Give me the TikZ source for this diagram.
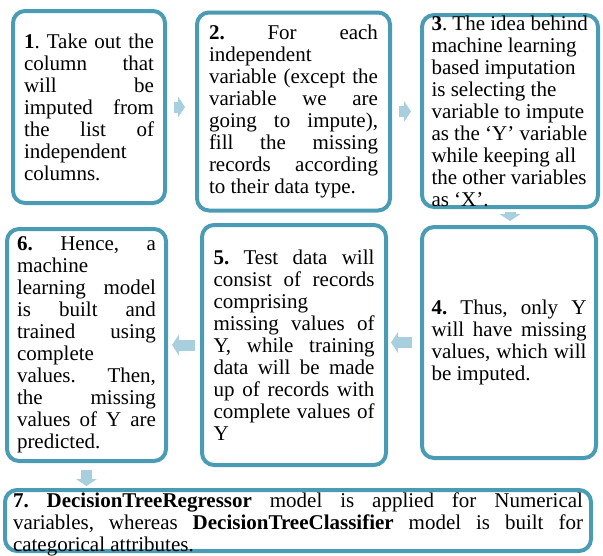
\documentclass[tikz,border=0pt]{standalone}
\usepackage{fontspec}
\setmainfont{Liberation Serif}
\usetikzlibrary{arrows.meta}
\setlength{\parindent}{0pt}
\frenchspacing

\definecolor{boxteal}{RGB}{74,156,181}
\definecolor{arrowblue}{RGB}{168,207,221}

% one line stretched to the full text width, or set flush left
\newlength{\jw}
\newcommand{\jline}[1]{\leavevmode\hbox to \jw{#1}}
\newcommand{\rline}[1]{\leavevmode\hbox to \jw{#1\hss}}

\tikzset{
  stepbox/.style={draw=boxteal, line width=4pt, rounded corners=12pt,
    inner sep=0pt, text width=#1, font=\fontsize{21}{22}\selectfont,
    execute at begin node={\setlength{\jw}{#1}\spaceskip=5.25pt plus 20pt minus 1pt}},
  flow/.style={draw=arrowblue, line width=11pt,
    -{Triangle[length=7pt,width=21pt,line width=0pt]}}
}

\begin{document}
\begin{tikzpicture}[x=1pt,y=-1pt]
  \useasboundingbox (0,0) rectangle (603,555);

  % top row
  \node[stepbox=130pt, minimum width=152pt, minimum height=192pt] (b1) at (89,107)
    {\jline{\textbf{1}. Take out the}\\ \jline{column that}\\ \jline{will be}\\
     \jline{imputed from}\\ \jline{the list of}\\ independent\\ columns.};
  \node[stepbox=169pt, minimum width=193pt, minimum height=198pt] (b2) at (293.5,111.5)
    {\jline{\textbf{2.} For each}\\ independent\\ \jline{variable (except the}\\
     \jline{variable we are}\\ \jline{going to impute),}\\ \jline{fill the missing}\\
     \jline{records according}\\ to their data type.};
  \node[stepbox=157pt, minimum width=176pt, minimum height=192pt, inner ysep=-4pt] (b3) at (510,111)
    {\rline{\textbf{3}. The idea behind}\\ \rline{machine learning}\\ \rline{based imputation}\\
     \rline{is selecting the}\\ \rline{variable to impute}\\ \rline{as the `Y' variable}\\
     \rline{while keeping all}\\ \rline{the other variables}\\ \rline{as `X'.}};

  % middle row
  \node[stepbox=155pt, minimum width=174pt, minimum height=231pt] (b4) at (509,342.5)
    {\jline{\textbf{4.} Thus, only Y}\\ \jline{will have missing}\\ \jline{values, which will}\\ be imputed.};
  \node[stepbox=161pt, minimum width=184pt, minimum height=240pt] (b5) at (294,345)
    {\jline{\textbf{5.} Test data will}\\ \jline{consist of records}\\ comprising\\
     \jline{missing values of}\\ \jline{Y, while training}\\ \jline{data will be made}\\
     \jline{up of records with}\\ \jline{complete values of}\\ Y};
  \node[stepbox=139pt, minimum width=159pt, minimum height=232pt] (b6) at (86.5,345)
    {\jline{\textbf{6.} Hence, a}\\ machine\\ \jline{learning model}\\ \jline{is built and}\\
     \jline{trained using}\\ complete\\ \jline{values. Then,}\\ \jline{the missing}\\
     \jline{values of Y are}\\ predicted.};

  % bottom
  \node[stepbox=570pt, minimum width=586pt, minimum height=61pt, inner ysep=-6pt] (b7) at (298,520.5)
    {\jline{\rule{0pt}{22pt}\textbf{7. DecisionTreeRegressor} model is applied for Numerical}\\
     \jline{variables, whereas \textbf{DecisionTreeClassifier} model is built for}\\
     categorical attributes.};

  % arrows
  \draw[flow, shorten <=7pt, shorten >=10pt] (b1.east) -- (b1.east -| b2.west);
  \draw[flow, shorten <=7pt, shorten >=9pt] (b2.east) -- (b2.east -| b3.west);
  \draw[flow, shorten <=3pt, shorten >=4pt] (b3.south) -- (b3.south |- b4.north);
  \draw[flow, shorten <=8pt, shorten >=3pt] (b4.west) -- (b4.west -| b5.east);
  \draw[flow, shorten <=5pt, shorten >=4pt] (b5.west) -- (b5.west -| b6.east);
  \draw[flow, shorten <=7pt, shorten >=2pt] (b6.south) -- (b6.south |- b7.north);
\end{tikzpicture}
\end{document}
